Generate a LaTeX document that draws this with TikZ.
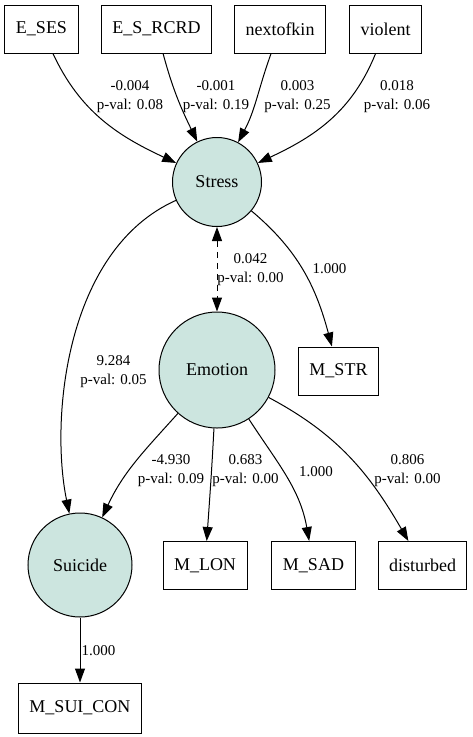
\documentclass[tikz,border=0pt]{standalone}
\usepackage{fontspec}
\setmainfont{Liberation Serif}
\usepackage{tikz}
\usetikzlibrary{arrows.meta}
\definecolor{latentfill}{RGB}{204,229,223}
\tikzset{
latent/.style={shape=circle, draw=black, fill=latentfill, line width=1pt, inner sep=0pt, font=\fontsize{18}{20}\selectfont},
observed/.style={shape=rectangle, draw=black, line width=1pt, minimum height=48pt, inner xsep=11pt, font=\fontsize{18}{20}\selectfont},
coef/.style={align=center, inner sep=0pt, font=\fontsize{15}{19}\selectfont},
path/.style={line width=1pt, -{Triangle[length=14pt,width=10pt]}},
covpath/.style={line width=1pt, dashed, dash pattern=on 6pt off 5pt, {Triangle[length=14pt,width=10pt]}-{Triangle[length=14pt,width=10pt]}}
}

\begin{document}
\begin{tikzpicture}[x=1pt, y=-1pt]
    \useasboundingbox (0,0) rectangle (472,737);

                % exogenous indicators
                \node[observed] (ses) at (41.5,29) {E\_SES};
                \node[observed] (rcrd) at (156.5,29) {E\_S\_RCRD};
                \node[observed] (kin) at (280,29) {nextofkin};
                \node[observed] (vio) at (385.5,29) {violent};

                % latent variables
                \node[latent, minimum size=89pt] (stress) at (217,182) {Stress};
                \node[latent, minimum size=116pt] (emotion) at (217,370) {Emotion};
                \node[latent, minimum size=104pt] (suicide) at (80,565) {Suicide};

                % measurements
                \node[observed] (mstr) at (338.5,371) {M\_STR};
                \node[observed] (mlon) at (205,565.5) {M\_LON};
                \node[observed] (msad) at (313.5,565.5) {M\_SAD};
                \node[observed] (dist) at (422.5,565.5) {disturbed};
                \node[observed, minimum height=50pt] (mcon) at (80,708) {M\_SUI\_CON};

                \draw[path] (ses) to[out=-65, in=155] (stress);
                \draw[path] (rcrd) to[out=-75, in=116] (stress);
                \draw[path] (kin) to[out=-110, in=62] (stress);
                \draw[path] (vio) to[out=-112, in=25] (stress);
                \draw[covpath] (stress) -- (emotion);
                \draw[path] (stress) to[out=-40, in=105] (mstr);
                \draw[path] (stress) .. controls (65,250) and (50,420) .. (suicide);
                \draw[path] (emotion) to[out=-132, in=65] (suicide);
                \draw[path] (emotion) to[out=-93, in=86] (mlon);
                \draw[path] (emotion) to[out=-57, in=100] (msad);
                \draw[path] (emotion) to[out=-28, in=120] (dist);
                \draw[path] (suicide) -- (mcon);

                % coefficients
                \node[coef] (cses) at (130,97) {-0.004\\p-val: 0.08};
                \node[coef] (crcrd) at (216,97) {-0.001\\p-val: 0.19};
                \node[coef] (ckin) at (297.5,97) {0.003\\p-val: 0.25};
                \node[coef] (cvio) at (397,97) {0.018\\p-val: 0.06};
                \node[coef] (ccov) at (250.5,269.5) {0.042\\p-val: 0.00};
                \node[coef] (cstr) at (329.5,269) {1.000};
                \node[coef] (csui) at (113.5,371.5) {9.284\\p-val: 0.05};
                \node[coef] (cemo) at (171,471) {-4.930\\p-val: 0.09};
                \node[coef] (clon) at (245.5,471) {0.683\\p-val: 0.00};
                \node[coef] (csad) at (316,472) {1.000};
                \node[coef] (cdist) at (407.5,471) {0.806\\p-val: 0.00};
                \node[coef] (ccon) at (98.5,651) {1.000};

            \end{tikzpicture}
\end{document}
